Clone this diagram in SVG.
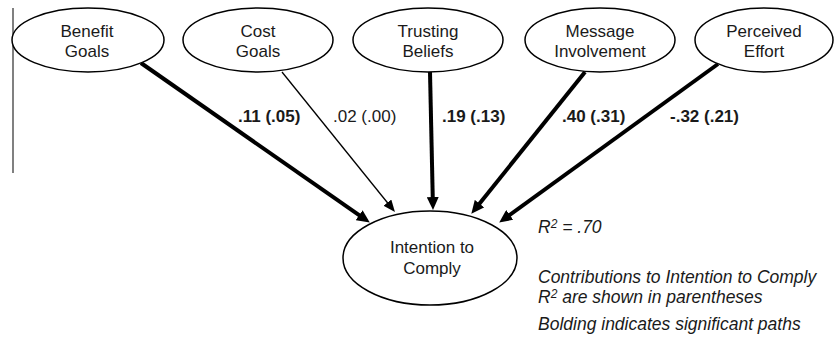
<svg xmlns="http://www.w3.org/2000/svg" width="835" height="342" viewBox="0 0 835 342">
<defs>
<style>
.node ellipse{fill:#fff;stroke:#000;stroke-width:1.5}
.node text{font-family:"Liberation Sans",Arial,sans-serif;font-size:17px;text-anchor:middle;fill:#1a1a1a}
.bold{stroke:#000;stroke-width:4;fill:none}
.thin{stroke:#000;stroke-width:1.3;fill:none}
.lab{font-family:"Liberation Sans",Arial,sans-serif;font-size:17px;fill:#1a1a1a}
.lab.b{font-weight:bold}
.note{font-family:"Liberation Sans",Arial,sans-serif;font-size:17.5px;font-style:italic;fill:#1a1a1a}
</style>
<marker id="ahB" markerUnits="userSpaceOnUse" markerWidth="14" markerHeight="12" refX="3" refY="6" orient="auto">
<path d="M0,0 L13,6 L0,12 z" fill="#000"/>
</marker>
<marker id="ahT" markerUnits="userSpaceOnUse" markerWidth="14" markerHeight="12" refX="3" refY="5" orient="auto">
<path d="M0,0 L12,5 L0,10 z" fill="#000"/>
</marker>
</defs>
<rect width="835" height="342" fill="#fff"/>
<line x1="13" y1="8" x2="13" y2="173" stroke="#808080" stroke-width="2"/>
<g id="connectors">
<line class="bold" x1="141" y1="63" x2="361.6" y2="216.9" marker-end="url(#ahB)"/>
<line class="thin" x1="282" y1="72" x2="389.3" y2="205" marker-end="url(#ahT)"/>
<line class="bold" x1="430" y1="72" x2="432.8" y2="200" marker-end="url(#ahB)"/>
<line class="bold" x1="585" y1="72" x2="477.6" y2="206" marker-end="url(#ahB)"/>
<line class="bold" x1="718" y1="64" x2="507.3" y2="216.7" marker-end="url(#ahB)"/>
<text class="lab b" x="238" y="122">.11 (.05)</text>
<text class="lab" x="333" y="122">.02 (.00)</text>
<text class="lab b" x="442" y="122">.19 (.13)</text>
<text class="lab b" x="562" y="122">.40 (.31)</text>
<text class="lab b" x="670" y="122">-.32 (.21)</text>
</g>
<g id="benefit" class="node"><ellipse cx="88" cy="40" rx="76" ry="32"/><text x="87" y="37">Benefit</text><text x="87" y="57">Goals</text></g>
<g id="cost" class="node"><ellipse cx="258" cy="40" rx="75" ry="32"/><text x="258" y="37">Cost</text><text x="258" y="57">Goals</text></g>
<g id="trusting" class="node"><ellipse cx="428" cy="40" rx="75" ry="32"/><text x="428" y="37">Trusting</text><text x="428" y="57">Beliefs</text></g>
<g id="message" class="node"><ellipse cx="600" cy="40" rx="75" ry="32"/><text x="600" y="37">Message</text><text x="600" y="57">Involvement</text></g>
<g id="effort" class="node"><ellipse cx="764" cy="40" rx="69" ry="32"/><text x="764" y="37">Perceived</text><text x="764" y="57">Effort</text></g>
<g id="intention" class="node"><ellipse cx="430" cy="258" rx="87" ry="47"/><text x="432" y="253">Intention to</text><text x="432" y="274">Comply</text></g>
<g id="notes">
<text class="note" x="538" y="233">R<tspan font-size="12" dy="-5">2</tspan><tspan dy="5"> = .70</tspan></text>
<text class="note" x="538" y="283">Contributions to Intention to Comply</text>
<text class="note" x="538" y="303">R<tspan font-size="12" dy="-5">2</tspan><tspan dy="5"> are shown in parentheses</tspan></text>
<text class="note" x="538" y="330">Bolding indicates significant paths</text>
</g>
</svg>
